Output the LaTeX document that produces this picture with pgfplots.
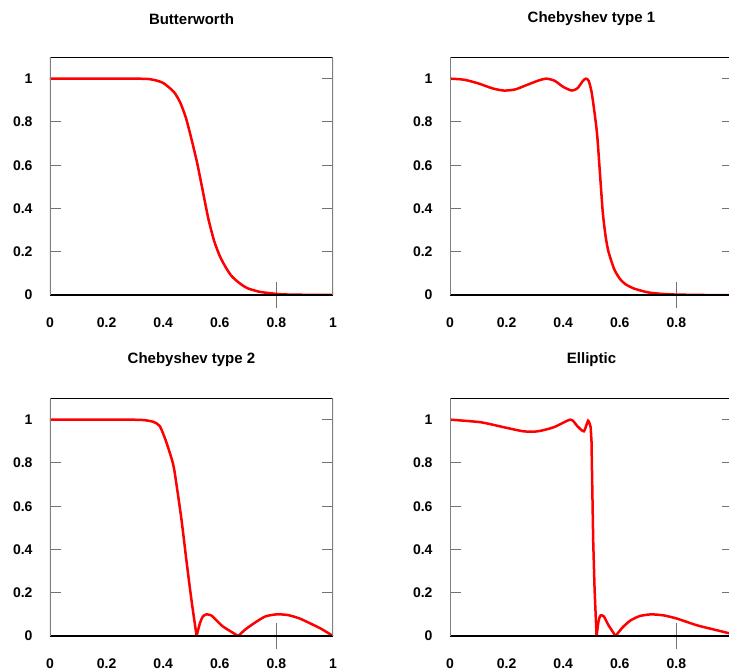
\documentclass[border=0pt]{standalone}
\usepackage{fontspec}
\setmainfont{Liberation Sans}
\usepackage{pgfplots}
\pgfplotsset{compat=1.18}

% frame drawn by hand: grey sides, black top and bottom
\newcommand{\filtframe}{%
  \draw[black, line width=1.1pt] (rel axis cs:0,0) -- (rel axis cs:1,0);
  \draw[black, line width=1.1pt] (rel axis cs:0,1) -- (rel axis cs:1,1);
  \draw[black!50, line width=1.6pt] (rel axis cs:0,0) -- (rel axis cs:0,1);
  \draw[black!50, line width=1.6pt] (rel axis cs:1,0) -- (rel axis cs:1,1);
}

\pgfplotsset{
  filt/.style={
    scale only axis, width=283pt, height=238pt,
    xmin=0, xmax=1, ymin=0, ymax=1.1,
    axis line style={draw=none},
    xtick={0,0.2,0.4,0.6,0.8,1}, xticklabels={0,0.2,0.4,0.6,0.8,1},
    ytick={0,0.2,0.4,0.6,0.8,1}, yticklabels={0,0.2,0.4,0.6,0.8,1},
    xtick style={draw=none},
    ytick style={draw=black!55, line width=1pt},
    tick align=inside, major tick length=11pt,
    extra x ticks={0.8}, extra x tick labels={},
    extra x tick style={xtick style={draw=black!55, line width=1.2pt},
      tick align=center, major tick length=26pt, xtick pos=bottom},
    tick label style={font=\fontsize{14}{16}\selectfont\bfseries},
    xticklabel style={anchor=center, yshift=-28pt},
    yticklabel style={anchor=east, xshift=-14pt},
    title style={font=\fontsize{15}{17}\selectfont\bfseries, anchor=center, yshift=32pt},
    cycle list={{red}},
    every axis plot/.append style={line width=2.5pt, smooth, tension=0.4, no marks},
  }
}

\begin{document}
\begin{tikzpicture}
\useasboundingbox (0,0) rectangle (729pt,-672pt);
\clip (0,0) rectangle (729pt,-672pt);

\begin{axis}[filt, at={(50pt,-295pt)}, anchor=south west, title={Butterworth}]
\addplot coordinates {
(0,1) (0.1,1) (0.2,1) (0.3,1) (0.35,0.998) (0.38,0.99) (0.40,0.98) (0.42,0.96)
(0.44,0.935) (0.46,0.89) (0.48,0.82) (0.50,0.72) (0.52,0.61) (0.54,0.48)
(0.56,0.35) (0.58,0.25) (0.60,0.18) (0.62,0.13) (0.64,0.09) (0.66,0.065)
(0.68,0.045) (0.70,0.03) (0.74,0.015) (0.78,0.008) (0.82,0.003) (0.9,0.001) (1,0)};
\filtframe
\end{axis}

\begin{axis}[filt, at={(450pt,-295pt)}, anchor=south west, title={Chebyshev type 1}]
\addplot coordinates {
(0,1.0) (0.05,0.995) (0.10,0.978) (0.15,0.955) (0.19,0.945) (0.23,0.95)
(0.27,0.97) (0.31,0.99) (0.34,1.0) (0.37,0.99) (0.40,0.962) (0.43,0.945)
(0.45,0.955) (0.47,0.99) (0.48,1.0) (0.49,0.99) (0.50,0.94) (0.51,0.85)
(0.52,0.74) (0.53,0.56) (0.54,0.38) (0.55,0.27) (0.56,0.2) (0.58,0.12)
(0.60,0.075) (0.62,0.05) (0.65,0.03) (0.70,0.012) (0.75,0.005) (0.8,0.002)
(0.9,0) (1,0)};
\filtframe
\end{axis}

\begin{axis}[filt, at={(50pt,-636pt)}, anchor=south west, title={Chebyshev type 2}]
\addplot coordinates {
(0,1) (0.1,1) (0.2,1) (0.28,1) (0.33,0.998) (0.365,0.99) (0.388,0.97)
(0.41,0.90) (0.435,0.795) (0.447,0.70) (0.465,0.534) (0.482,0.35)
(0.50,0.165) (0.518,0)};
\addplot coordinates {
(0.518,0) (0.53,0.06) (0.54,0.09) (0.553,0.1) (0.57,0.095) (0.59,0.07)
(0.61,0.045) (0.64,0.02) (0.665,0)};
\addplot coordinates {
(0.665,0) (0.69,0.03) (0.72,0.058) (0.76,0.09) (0.80,0.1) (0.84,0.097)
(0.88,0.082) (0.92,0.058) (0.96,0.032) (1,0)};
\filtframe
\end{axis}

\begin{axis}[filt, at={(450pt,-636pt)}, anchor=south west, title={Elliptic}]
\addplot coordinates {
(0,1.0) (0.108,0.988) (0.19,0.965) (0.26,0.946) (0.31,0.946) (0.367,0.965)
(0.426,1.0) (0.45,0.97) (0.473,0.946) (0.488,0.995) (0.497,0.965)};
\addplot+[sharp plot] coordinates {
(0.497,0.965) (0.50,0.90) (0.503,0.67) (0.506,0.44) (0.511,0.21) (0.518,0)};
\addplot coordinates {
(0.518,0) (0.525,0.07) (0.532,0.095) (0.544,0.09) (0.56,0.05) (0.585,0)};
\addplot coordinates {
(0.585,0) (0.61,0.04) (0.638,0.072) (0.67,0.092) (0.71,0.1) (0.756,0.095)
(0.803,0.08) (0.874,0.049) (0.945,0.026) (1,0.008)};
\filtframe
\end{axis}
\end{tikzpicture}
\end{document}
